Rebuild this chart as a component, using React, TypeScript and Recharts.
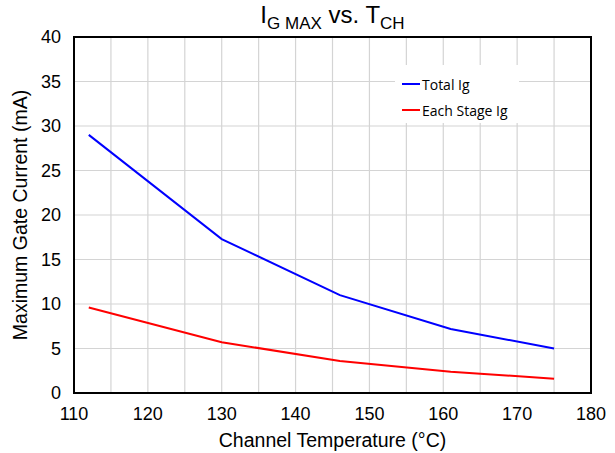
import { LineChart, Line, XAxis, YAxis, CartesianGrid } from "recharts";

const temps = [112, 130, 146, 161, 175];
const totalIg = [29, 17.3, 11, 7.2, 5];
const stageIg = [9.6, 5.7, 3.6, 2.4, 1.6];
const xTicks = [110, 115, 120, 125, 130, 135, 140, 145, 150, 155, 160, 165, 170, 175, 180];
const yTicks = [0, 5, 10, 15, 20, 25, 30, 35, 40];
const seriesNames = ["Total Ig", "Each Stage Ig"];
const seriesColors = ["#0000FF", "#FF0000"];

const data = temps.map((t, i) => ({ t, total: totalIg[i], stage: stageIg[i] }));

const font = "'Liberation Sans', Arial, sans-serif";

function LegendBox() {
  return (
    <div style={{ position: "absolute", left: 395, top: 65, background: "#fff", width: 124, height: 58, padding: "6px 0 0 7px", boxSizing: "border-box" }}>
      {seriesNames.map((name, i) => (
        <div key={name} style={{ display: "flex", alignItems: "center", height: 26, fontFamily: "'Open Sans', sans-serif", fontSize: 14, color: "#000", whiteSpace: "nowrap" }}>
          <span style={{ display: "inline-block", width: 18, height: 2, background: seriesColors[i], marginRight: 2 }}></span>
          {name}
        </div>
      ))}
    </div>
  );
}

export default function App() {
  return (
    <div style={{ position: "absolute", left: 0, top: 0, width: 615, height: 453, background: "#fff" }}>
      <LineChart width={615} height={453} data={data} margin={{ top: 37, right: 24, left: 0, bottom: 0 }}>
        <CartesianGrid stroke="#d4d4d4" strokeWidth={1.2} />
        <XAxis
          dataKey="t"
          type="number"
          domain={[110, 180]}
          ticks={xTicks}
          interval={0}
          height={60}
          axisLine={{ stroke: "#000", strokeWidth: 2 }}
          tickLine={false}
          tickFormatter={(v: number) => (v % 10 === 0 ? String(v) : "")}
          tick={{ fill: "#000", fontSize: 18, fontFamily: font }}
          tickMargin={8}
          label={{ value: "Channel Temperature (°C)", position: "insideBottom", offset: 6, fill: "#000", fontSize: 19.5, fontFamily: font }}
        />
        <YAxis
          type="number"
          domain={[0, 40]}
          ticks={yTicks}
          interval={0}
          width={74}
          axisLine={{ stroke: "#000", strokeWidth: 2 }}
          tickLine={false}
          tick={{ fill: "#000", fontSize: 18, fontFamily: font }}
          tickMargin={7}
          label={{ value: "Maximum  Gate Current (mA)", angle: -90, position: "insideLeft", offset: 20, style: { textAnchor: "middle", whiteSpace: "pre" }, fill: "#000", fontSize: 19.5, fontFamily: font }}
        />
        <Line dataKey="total" stroke="#0000FF" strokeWidth={2} dot={false} isAnimationActive={false} />
        <Line dataKey="stage" stroke="#FF0000" strokeWidth={2} dot={false} isAnimationActive={false} />
      </LineChart>
      <div style={{ position: "absolute", left: 73, top: 36, width: 519, height: 358, border: "2.5px solid #000", boxSizing: "border-box", pointerEvents: "none" }}></div>
      <LegendBox />
      <div style={{ position: "absolute", left: 0, width: 615, top: 1, textAlign: "center", fontFamily: font, fontSize: 24, color: "#000", paddingLeft: 50, boxSizing: "border-box" }}>
        I<sub style={{ fontSize: 17 }}>G MAX</sub> vs. T<sub style={{ fontSize: 17 }}>CH</sub>
      </div>
    </div>
  );
}
